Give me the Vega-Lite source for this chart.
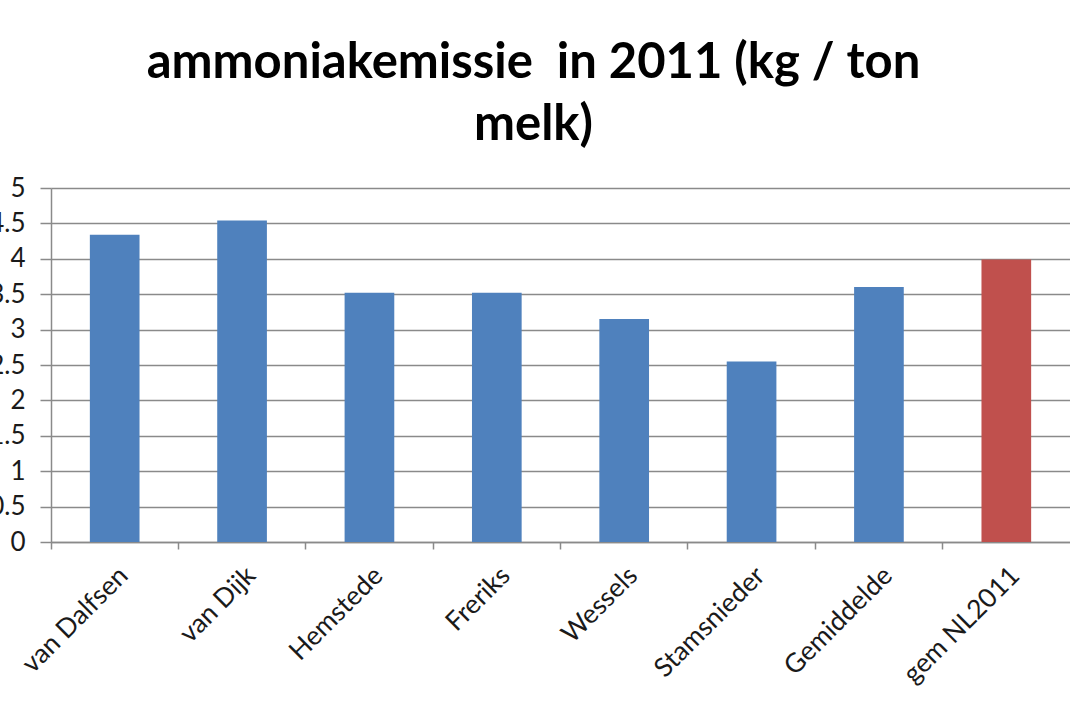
{
  "$schema": "https://vega.github.io/schema/vega-lite/v6.json",
  "autosize": {"type": "none"},
  "width": 1019,
  "height": 354,
  "padding": {"left": 51, "top": 188, "right": 0, "bottom": 171},
  "background": "white",
  "title": {
    "text": ["ammoniakemissie\u00a0 in 2011 (kg / ton", "melk)"],
    "font": "Lato",
    "fontSize": 49,
    "fontWeight": "bold",
    "color": "#000000",
    "lineHeight": 62,
    "anchor": "middle",
    "dx": -27,
    "offset": 25
  },
  "config": {
    "view": {"stroke": null},
    "axis": {"labelFont": "Lato", "labelColor": "#1a1a1a"}
  },
  "data": {
    "values": [
      {"bedrijf": "van Dalfsen", "emissie": 4.34, "reeks": "bedrijf"},
      {"bedrijf": "van Dijk", "emissie": 4.54, "reeks": "bedrijf"},
      {"bedrijf": "Hemstede", "emissie": 3.52, "reeks": "bedrijf"},
      {"bedrijf": "Freriks", "emissie": 3.52, "reeks": "bedrijf"},
      {"bedrijf": "Wessels", "emissie": 3.15, "reeks": "bedrijf"},
      {"bedrijf": "Stamsnieder", "emissie": 2.55, "reeks": "bedrijf"},
      {"bedrijf": "Gemiddelde", "emissie": 3.6, "reeks": "bedrijf"},
      {"bedrijf": "gem NL2011", "emissie": 3.99, "reeks": "NL"}
    ]
  },
  "layer": [
    {
      "mark": {"type": "bar", "width": {"band": 0.39}},
      "encoding": {
        "x": {
          "field": "bedrijf",
          "type": "nominal",
          "sort": null,
          "scale": {"paddingInner": 0, "paddingOuter": 0},
          "axis": {
            "orient": "bottom",
            "title": null,
            "labelAngle": -45,
            "labelFontSize": 26.5,
            "labelPadding": 20,
            "labelDx": -29,
            "labelDy": -7,
            "ticks": false,
            "domainColor": "#8a8a8a",
            "domainWidth": 1.5
          }
        },
        "y": {
          "field": "emissie",
          "type": "quantitative",
          "scale": {"domain": [0, 5], "nice": false},
          "axis": {
            "title": null,
            "values": [0, 0.5, 1, 1.5, 2, 2.5, 3, 3.5, 4, 4.5, 5],
            "format": "~g",
            "labelFontSize": 26,
            "labelColor": "#1a1a1a",
            "labelPadding": 15,
            "labelOverlap": false,
            "tickSize": 11,
            "tickColor": "#8a8a8a",
            "tickWidth": 1.5,
            "domainColor": "#8a8a8a",
            "domainWidth": 1.5,
            "gridColor": "#8a8a8a",
            "gridWidth": 1.5
          }
        },
        "color": {
          "field": "reeks",
          "type": "nominal",
          "scale": {"domain": ["bedrijf", "NL"], "range": ["#4F81BD", "#C0504D"]},
          "legend": null
        }
      }
    },
    {
      "mark": {"type": "bar", "opacity": 0},
      "encoding": {
        "x": {
          "field": "bedrijf",
          "type": "nominal",
          "sort": null,
          "scale": {"paddingInner": 0, "paddingOuter": 0},
          "axis": {
            "orient": "bottom",
            "title": null,
            "labels": false,
            "domain": false,
            "bandPosition": 0,
            "tickSize": 7,
            "tickColor": "#8a8a8a",
            "tickWidth": 1.5
          }
        }
      }
    }
  ],
  "resolve": {"axis": {"x": "independent"}}
}
